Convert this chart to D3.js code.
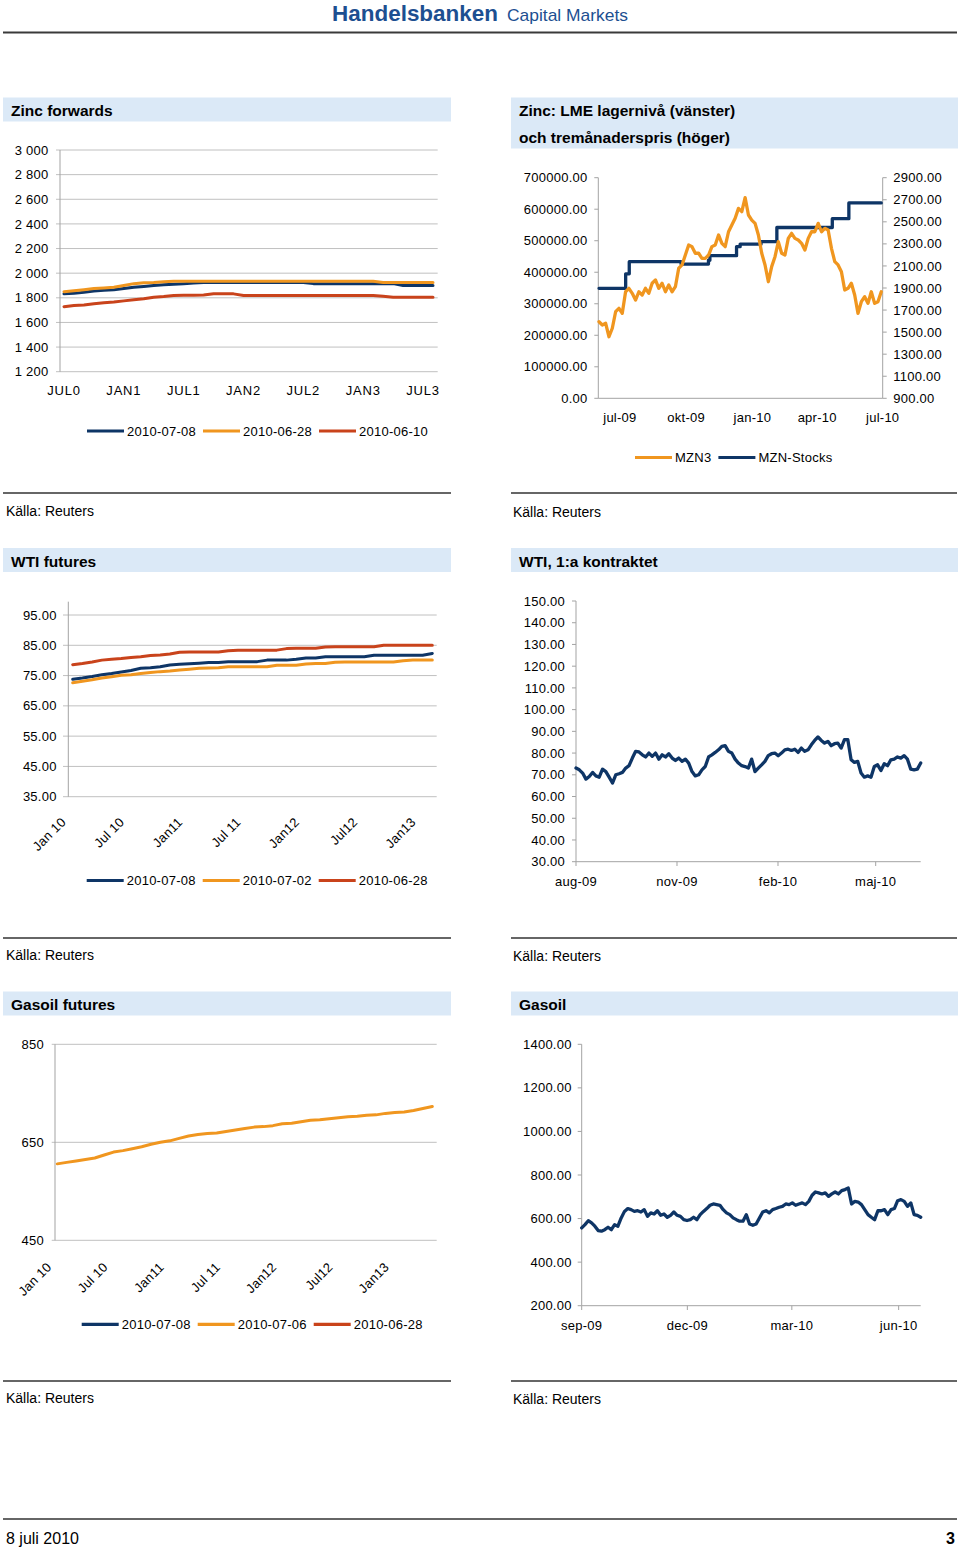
<!DOCTYPE html>
<html><head><meta charset="utf-8">
<script src="https://cdn.jsdelivr.net/npm/d3@7"></script>
<style>body{margin:0;background:#fff}svg{display:block}text{font-family:"Liberation Sans",Arial,sans-serif}</style>
</head><body><svg id="c" width="960" height="1549"></svg>
<script>
// ================= DATA =================
// Zinc forwards (monthly contracts JUL0 .. AUG3)
const zincTickLabels = ["JUL0","JAN1","JUL1","JAN2","JUL2","JAN3","JUL3"];
const zincNames = ["2010-07-08","2010-06-28","2010-06-10"];
const zinc0708 = [1832,1836,1845,1855,1862,1865,1875,1885,1892,1900,1905,1910,1915,1920,1925,1925,1925,1925,1925,1925,1925,1925,1925,1925,1925,1915,1915,1915,1915,1915,1915,1915,1915,1915,1900,1900,1900,1900];
const zinc0628 = [1850,1858,1866,1875,1880,1885,1900,1915,1922,1925,1930,1935,1935,1935,1935,1935,1935,1935,1935,1935,1935,1935,1935,1935,1935,1935,1935,1935,1935,1935,1935,1935,1925,1925,1925,1925,1925,1925];
const zinc0610 = [1728,1738,1742,1752,1760,1765,1775,1785,1792,1805,1810,1818,1820,1820,1822,1832,1833,1832,1818,1818,1818,1818,1818,1818,1818,1818,1818,1818,1818,1818,1818,1818,1812,1805,1805,1805,1805,1805];
const zincYTicks = [1200,1400,1600,1800,2000,2200,2400,2600,2800,3000];

// Zinc LME stocks (left) and 3-month price (right)
const lmeNames = ["MZN3","MZN-Stocks"];
const stockDates = ["2009-06-02","2009-07-05","2009-07-09","2009-07-14","2009-09-24","2009-11-01","2009-11-03","2009-12-10","2009-12-15","2010-01-13","2010-02-04","2010-04-22","2010-05-15","2010-06-29"];
const stockValues = [349000,349000,395000,433500,426000,438000,452700,481000,489000,497000,542000,570000,620000,620000];
const mzn3Span = ["2009-06-02","2010-06-29"];
const mzn3Values = [1594,1565,1580,1458,1535,1685,1716,1670,1866,1897,1852,1791,1866,1836,1897,1852,1943,1973,1897,1943,1866,1927,1866,1912,2079,2109,2199,2290,2275,2215,2215,2169,2169,2199,2275,2290,2381,2305,2275,2410,2471,2532,2622,
 2592,2720,2562,2516,2486,2381,2215,2109,1957,2094,2184,2320,2215,2199,2350,2396,2350,2335,2305,2244,2350,2410,2410,2486,2410,2441,2426,2260,2139,2109,2048,1882,1897,1943,1836,1670,1776,1821,1761,1866,1761,1776,1866];
const lmeLeftTicks = [0,100000,200000,300000,400000,500000,600000,700000];
const lmeRightTicks = [900,1100,1300,1500,1700,1900,2100,2300,2500,2700,2900];
const lmeTickDates = ["2009-07-01","2009-10-01","2010-01-01","2010-04-01","2010-07-01"];
const lmeTickLabels = ["jul-09","okt-09","jan-10","apr-10","jul-10"];

// WTI futures
const wtiFutTickLabels = ["Jan 10","Jul 10","Jan11","Jul 11","Jan12","Jul12","Jan13"];
const wtiFutNames = ["2010-07-08","2010-07-02","2010-06-28"];
const wtiFut0708 = [73.8,74.2,74.7,75.3,75.7,76.2,76.7,77.4,77.6,77.9,78.5,78.7,78.9,79.1,79.3,79.3,79.6,79.6,79.6,79.6,80.1,80.1,80.1,80.4,80.8,80.8,81.2,81.2,81.2,81.2,81.2,81.7,81.7,81.7,81.7,81.7,81.7,82.3];
const wtiFut0702 = [72.6,73.1,73.6,74.2,74.6,75.1,75.3,75.7,76.0,76.3,76.5,76.8,77.1,77.4,77.5,77.6,77.9,77.9,77.9,77.9,77.9,78.4,78.4,78.4,78.8,79.0,79.0,79.4,79.5,79.5,79.5,79.5,79.5,79.5,79.9,80.1,80.1,80.1];
const wtiFut0628 = [78.6,79.0,79.5,80.1,80.4,80.6,81.0,81.2,81.6,81.8,82.1,82.7,82.8,82.8,82.8,82.8,83.2,83.4,83.4,83.4,83.4,83.4,83.9,84.0,84.0,84.0,84.4,84.5,84.5,84.5,84.5,84.5,85.0,85.0,85.0,85.0,85.0,85.0];
const wtiFutYTicks = [35,45,55,65,75,85,95];

// WTI 1st contract
const wti1Span = ["2009-08-01","2010-06-11"];
const wti1Values = [73.1,72.3,70.8,68.0,69.2,71.1,69.5,68.9,72.6,71.5,68.9,66.2,70.0,70.5,71.1,73.1,74.2,77.7,80.8,80.5,79.2,78.2,80.0,78.5,80.0,77.2,79.2,78.2,79.7,77.7,76.6,77.7,76.2,77.2,75.4,71.5,69.5,70.0,72.3,73.8,78.2,79.2,80.3,81.5,83.1,83.4,80.8,80.0,77.2,75.4,74.2,73.8,73.1,77.2,71.5,73.1,74.6,76.2,78.8,79.7,80.0,78.8,80.0,81.5,81.8,81.2,81.8,80.3,82.3,80.8,81.5,83.8,85.8,87.4,85.8,84.6,85.4,83.4,84.3,84.6,82.3,86.2,86.2,76.9,75.7,76.2,70.8,68.9,69.5,68.9,73.8,74.6,72.0,75.1,74.2,76.9,77.2,78.2,77.7,78.8,77.2,72.6,72.3,72.6,75.4];
const wti1YTicks = [30,40,50,60,70,80,90,100,110,120,130,140,150];
const wti1TickDates = ["2009-08-01","2009-11-01","2010-02-01","2010-05-01"];
const wti1TickLabels = ["aug-09","nov-09","feb-10","maj-10"];

// Gasoil futures
const gasFutTickLabels = ["Jan 10","Jul 10","Jan11","Jul 11","Jan12","Jul12","Jan13"];
const gasFutNames = ["2010-07-08","2010-07-06","2010-06-28"];
const gasFut0708 = [];
const gasFut0706 = [606,609,612,615,618,624,630,633,637,641,646,650,653,658,663,666,668,669,672,675,678,681,682,684,688,689,692,695,696,698,700,702,703,705,706,709,711,712,715,719,723];
const gasFut0628 = [];
const gasFutYTicks = [450,650,850];

// Gasoil
const gasSpan = ["2009-09-01","2010-06-20"];
const gasValues = [557,572,590,580,565,545,542,549,560,549,572,565,603,633,646,641,633,636,630,641,610,626,621,636,615,621,606,615,630,615,610,595,591,595,606,595,618,633,646,661,667,664,661,641,626,618,603,595,588,588,618,575,569,575,603,630,636,626,641,646,652,656,667,664,672,661,667,672,664,679,707,722,718,713,718,702,713,722,713,728,733,740,667,679,676,664,641,618,606,595,636,636,641,618,641,646,682,687,679,656,672,618,615,606];
const gasYTicks = [200,400,600,800,1000,1200,1400];
const gasTickDates = ["2009-09-01","2009-12-01","2010-03-01","2010-06-01"];
const gasTickLabels = ["sep-09","dec-09","mar-10","jun-10"];

// ================= DRAW =================
const NAVY="#0e3566", ORANGE="#f0961f", RED="#c9431b", BAR="#dbe9f7", GRID="#c0c0c0", AXIS="#a3a3a3";
const svg = d3.select("#c");
const FS = 13;
const parse = d3.timeParse("%Y-%m-%d");
const spaceFmt = d3.formatLocale({decimal:".",thousands:" ",grouping:[3],currency:["",""]}).format(",");
const f2 = d3.format(".2f");

function txt(g,x,y,s,o={}){
  const t=g.append("text").attr("x",x).attr("y",y).text(s)
    .attr("font-size",o.fs||FS).attr("fill",o.fill||"#000");
  if(o.anchor) t.attr("text-anchor",o.anchor);
  if(o.bold) t.attr("font-weight","bold");
  if(o.ls!==undefined) t.attr("letter-spacing",o.ls);
  return t;
}
function lab(x,y,s,anchor){return txt(svg,x,y,s,{anchor:anchor,ls:0.25});}
function hline(x1,x2,y,c,w){svg.append("line").attr("x1",x1).attr("x2",x2).attr("y1",y).attr("y2",y).attr("stroke",c).attr("stroke-width",w);}
function vline(x,y1,y2,c,w){svg.append("line").attr("x1",x).attr("x2",x).attr("y1",y1).attr("y2",y2).attr("stroke",c).attr("stroke-width",w);}
function titleBar(x,y,w,h,lines,baselines){
  svg.append("rect").attr("x",x).attr("y",y).attr("width",w).attr("height",h).attr("fill",BAR);
  lines.forEach((l,i)=>txt(svg,x+8,baselines[i],l,{fs:15.5,bold:true}));
}
function path(data,xf,yf,color,curve,w){
  svg.append("path").datum(data).attr("fill","none").attr("stroke",color).attr("stroke-width",w||3)
    .attr("stroke-linejoin","round").attr("stroke-linecap","round")
    .attr("d",d3.line().x(xf).y(yf).curve(curve||d3.curveLinear));
}
function legend(items,x0,y){
  let x=x0;
  items.forEach(it=>{
    hline(x,x+37,y,it.color,3.2);
    const t=lab(x+40,y+4.6,it.label);
    x = x+40+t.node().getComputedTextLength()+7;
  });
}

// Header
txt(svg,332,21,"Handelsbanken",{fs:22,bold:true,fill:"#1d4f91"}).attr("textLength",166).attr("lengthAdjust","spacingAndGlyphs");
txt(svg,507,21,"Capital Markets",{fs:17,fill:"#1d4f91"}).attr("textLength",121).attr("lengthAdjust","spacingAndGlyphs");
hline(3,957,32.5,"#3a3a3a",2);

// ---------- Zinc forwards ----------
titleBar(3,97.5,448,24,["Zinc forwards"],[116]);
{
  const x=d3.scaleLinear().domain([0,zinc0708.length-1]).range([64,433]);
  const y=d3.scaleLinear().domain([1200,3000]).range([371.7,150]);
  zincYTicks.forEach(v=>{hline(56,437.7,y(v),GRID,1); lab(48.5,y(v)+4.6,spaceFmt(v),"end");});
  vline(60,150,371.7,AXIS,1);
  zincTickLabels.forEach((l,i)=>txt(svg,x(i*6),395,l,{anchor:"middle",ls:0.8}));
  [[zinc0708,NAVY],[zinc0628,ORANGE],[zinc0610,RED]].forEach(([d,c])=>path(d,(v,i)=>x(i),v=>y(v),c));
  legend(zincNames.map((n,i)=>({label:n,color:[NAVY,ORANGE,RED][i]})),87,431);
}

// ---------- Zinc LME ----------
titleBar(511,97.5,447,51,["Zinc: LME lagernivå (vänster)","och tremånaderspris (höger)"],[116,143]);
{
  const t0=parse("2009-06-01"), t1=parse("2010-07-01");
  const x=d3.scaleTime().domain([t0,t1]).range([598.3,882.7]);
  const yl=d3.scaleLinear().domain([0,700000]).range([398.3,177.7]);
  const yr=d3.scaleLinear().domain([900,2900]).range([398.3,177.7]);
  vline(598.3,177.7,398.3,AXIS,1); vline(882.7,177.7,398.3,AXIS,1); hline(598.3,882.7,398.3,AXIS,1);
  lmeLeftTicks.forEach(v=>{hline(594.3,598.3,yl(v),AXIS,1); lab(587.5,yl(v)+4.6,f2(v),"end");});
  lmeRightTicks.forEach(v=>{hline(882.7,886.7,yr(v),AXIS,1); lab(893.3,yr(v)+4.6,f2(v));});
  lmeTickDates.forEach((d,i)=>lab(x(parse(d)),421.5,lmeTickLabels[i],"middle"));
  const st=stockDates.map((d,i)=>[parse(d),stockValues[i]]);
  path(st,d=>x(d[0]),d=>yl(d[1]),NAVY,d3.curveStepAfter,3.3);
  const it=d3.scaleLinear().domain([0,mzn3Values.length-1]).range([parse(mzn3Span[0]),parse(mzn3Span[1])]);
  path(mzn3Values,(v,i)=>x(it(i)),v=>yr(v),ORANGE,null,3.3);
  legend(lmeNames.map((n,i)=>({label:n,color:[ORANGE,NAVY][i]})),635,457.5);
}

// ---------- WTI futures ----------
titleBar(3,548,448,24,["WTI futures"],[566.5]);
{
  const x=d3.scaleLinear().domain([0,wtiFut0708.length-1]).range([72.7,432.3]);
  const y=d3.scaleLinear().domain([35,95]).range([796.7,615]);
  wtiFutYTicks.forEach(v=>{hline(63,436.7,y(v),GRID,1); lab(56.7,y(v)+4.6,f2(v),"end");});
  vline(68.3,y(99.4),796.7,AXIS,1);
  wtiFutTickLabels.forEach((l,i)=>lab(0,0,l,"end").attr("transform",`translate(${x(i*6)-6},${823}) rotate(-45)`));
  [[wtiFut0708,NAVY],[wtiFut0702,ORANGE],[wtiFut0628,RED]].forEach(([d,c])=>path(d,(v,i)=>x(i),v=>y(v),c));
  legend(wtiFutNames.map((n,i)=>({label:n,color:[NAVY,ORANGE,RED][i]})),86.7,880.5);
}

// ---------- WTI 1:a kontraktet ----------
titleBar(511,548,447,24,["WTI, 1:a kontraktet"],[566.5]);
{
  const x=d3.scaleTime().domain([parse(wti1Span[0]),parse(wti1Span[1])]).range([576,920.7]);
  const y=d3.scaleLinear().domain([30,150]).range([861.7,601]);
  vline(576,601,861.7,AXIS,1); hline(576,920.7,861.7,AXIS,1);
  wti1YTicks.forEach(v=>{hline(572,576,y(v),AXIS,1); lab(565,y(v)+4.6,f2(v),"end");});
  wti1TickDates.forEach((d,i)=>{const xx=x(parse(d)); vline(xx,861.7,866,AXIS,1); lab(xx,886,wti1TickLabels[i],"middle");});
  const it=d3.scaleLinear().domain([0,wti1Values.length-1]).range([parse(wti1Span[0]),parse(wti1Span[1])]);
  path(wti1Values,(v,i)=>x(it(i)),v=>y(v),NAVY,null,3.3);
}

// ---------- Gasoil futures ----------
titleBar(3,991.5,448,24,["Gasoil futures"],[1010]);
{
  const x=d3.scaleLinear().domain([0,gasFut0706.length-1]).range([57.3,432.3]);
  const y=d3.scaleLinear().domain([450,850]).range([1240.3,1044.3]);
  gasFutYTicks.forEach(v=>{hline(51.7,436.7,y(v),GRID,1); lab(44,y(v)+4.6,String(v),"end");});
  vline(55,1044.3,1240.3,AXIS,1);
  gasFutTickLabels.forEach((l,i)=>lab(0,0,l,"end").attr("transform",`translate(${x(i*6)-5},${1268}) rotate(-45)`));
  [[gasFut0708,NAVY],[gasFut0706,ORANGE],[gasFut0628,RED]].forEach(([d,c])=>{if(d.length) path(d,(v,i)=>x(i),v=>y(v),c);});
  legend(gasFutNames.map((n,i)=>({label:n,color:[NAVY,ORANGE,RED][i]})),81.7,1324.3);
}

// ---------- Gasoil ----------
titleBar(511,991.5,447,24,["Gasoil"],[1010]);
{
  const x=d3.scaleTime().domain([parse(gasSpan[0]),parse(gasSpan[1])]).range([581.7,920.7]);
  const y=d3.scaleLinear().domain([200,1400]).range([1305.7,1044.3]);
  vline(581.7,1044.3,1305.7,AXIS,1); hline(581.7,920.7,1305.7,AXIS,1);
  gasYTicks.forEach(v=>{hline(577.7,581.7,y(v),AXIS,1); lab(571.7,y(v)+4.6,f2(v),"end");});
  gasTickDates.forEach((d,i)=>{const xx=x(parse(d)); vline(xx,1305.7,1310,AXIS,1); lab(xx,1329.5,gasTickLabels[i],"middle");});
  const it=d3.scaleLinear().domain([0,gasValues.length-1]).range([parse(gasSpan[0]),parse(gasSpan[1])]);
  path(gasValues,(v,i)=>x(it(i)),v=>y(v),NAVY,null,3.3);
}

// ---------- Sources & footer ----------
[[493,516],[938,960],[1381,1403]].forEach(([ly,ty])=>{
  hline(3,451,ly,"#333",1.3); hline(511,957,ly,"#333",1.3);
  txt(svg,6,ty,"Källa: Reuters",{fs:14});
  txt(svg,513,ty+1,"Källa: Reuters",{fs:14});
});
hline(3,957,1519,"#333",1.6);
txt(svg,6,1544,"8 juli 2010",{fs:16});
txt(svg,955,1544,"3",{fs:16,bold:true,anchor:"end"});
</script></body></html>
